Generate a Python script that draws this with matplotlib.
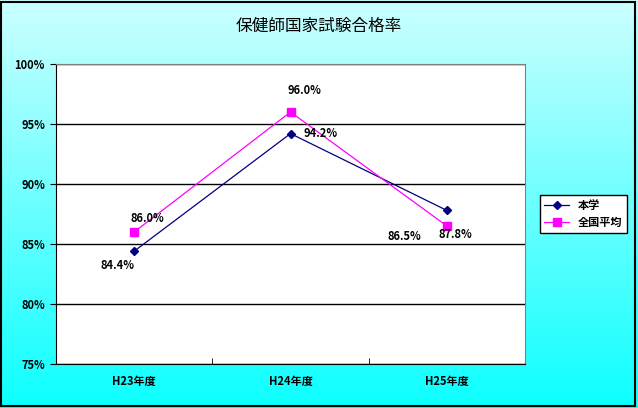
import matplotlib.pyplot as plt
import numpy as np
from matplotlib.patches import Rectangle
from matplotlib.ticker import FuncFormatter

plt.rcParams['font.family'] = ['Noto Sans CJK JP', 'DejaVu Sans']

# data
years = ['H23年度', 'H24年度', 'H25年度']
honbu = [84.4, 94.2, 87.8]      # 本学
zenkoku = [86.0, 96.0, 86.5]    # 全国平均

# label text as it appears in the chart (H25 labels are swapped in the original)
honbu_labels = ['84.4%', '94.2%', '87.8%']
zenkoku_labels = ['86.0%', '96.0%', '86.5%']
honbu_offsets = [(-17, -14), (30, 0), (9, -24)]
zenkoku_offsets = [(13, 14), (14, 21), (-42, -10)]

fig = plt.figure(figsize=(6.38, 4.08), dpi=100)

# gradient background
bg = fig.add_axes([0, 0, 1, 1], zorder=0)
grad = np.linspace(0, 1, 256).reshape(-1, 1)
top = np.array([0.80, 1.0, 1.0])
bot = np.array([0.05, 1.0, 1.0])
img = top * (1 - grad[..., None]) + bot * grad[..., None]
bg.imshow(img, aspect='auto', extent=[0, 1, 0, 1])
bg.set_axis_off()
fig.patches.append(Rectangle((0.002, 0.006), 0.994, 0.99, transform=fig.transFigure,
                             fill=False, edgecolor='black', linewidth=1.5, zorder=10))

ax = fig.add_axes([56 / 638, 1 - 364 / 408, 469 / 638, 300 / 408], zorder=1)
ax.set_facecolor('white')
x = np.arange(len(years))

ax.plot(x, honbu, color='#000080', marker='D', markersize=4.5, linewidth=0.9,
        label='本学', zorder=3)
ax.plot(x, zenkoku, color='#FF00FF', marker='s', markersize=6, linewidth=0.9,
        label='全国平均', zorder=3)

for xi, v, t, off in zip(x, honbu, honbu_labels, honbu_offsets):
    ax.annotate(t, (xi, v), xytext=off, textcoords='offset pixels',
                ha='center', va='center', fontsize=8, fontweight='bold')
for xi, v, t, off in zip(x, zenkoku, zenkoku_labels, zenkoku_offsets):
    ax.annotate(t, (xi, v), xytext=off, textcoords='offset pixels',
                ha='center', va='center', fontsize=8, fontweight='bold')

ax.set_xlim(-0.5, 2.5)
ax.set_ylim(75, 100)
ax.set_yticks([75, 80, 85, 90, 95, 100])
ax.yaxis.set_major_formatter(FuncFormatter(lambda v, p: f'{v:.0f}%'))
ax.grid(axis='y', color='black', linewidth=1)
ax.set_axisbelow(True)

ax.set_xticks(x)
ax.set_xticklabels(years, fontsize=8, fontweight='bold')
ax.set_xticks([0.5, 1.5], minor=True)
ax.tick_params(axis='x', which='major', length=0, pad=8)
ax.tick_params(axis='x', which='minor', direction='in', length=4)
ax.tick_params(axis='y', direction='out', length=4, labelsize=8, pad=4)
for lab in ax.get_yticklabels():
    lab.set_fontweight('bold')

for s in ['top', 'right']:
    ax.spines[s].set_color('#808080')
for s in ['left', 'bottom']:
    ax.spines[s].set_color('black')

fig.text(0.5, 1 - 26 / 408, '保健師国家試験合格率', ha='center', va='center', fontsize=12)

leg = ax.legend(loc='center left', bbox_to_anchor=(1.02, 0.5), fontsize=8,
                frameon=True, fancybox=False, edgecolor='black', framealpha=1,
                handlelength=2.2, borderpad=0.4, labelspacing=0.3)
leg.get_frame().set_linewidth(1)
for t in leg.get_texts():
    t.set_fontweight('bold')

fig.savefig('out.png', dpi=100)
